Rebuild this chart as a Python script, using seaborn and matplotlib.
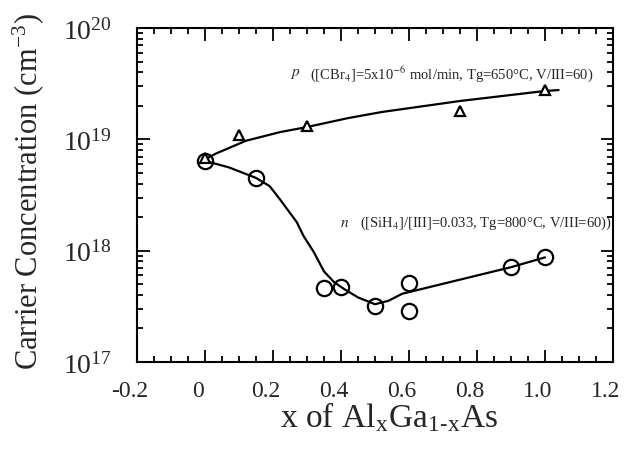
import numpy as np
import pandas as pd
import seaborn as sns
import matplotlib.pyplot as plt
from matplotlib.ticker import MultipleLocator, LogLocator, NullFormatter
from matplotlib.transforms import ScaledTranslation

# measured points, p-type (CBr4 doped)
p_x = [0.0, 0.1, 0.3, 0.75, 1.0]
p_y = [6.8e18, 1.09e19, 1.31e19, 1.8e19, 2.75e19]
# measured points, n-type (SiH4 doped)
n_x = [0.0, 0.15, 0.35, 0.4, 0.5, 0.6, 0.6, 0.9, 1.0]
n_y = [6.4e18, 4.5e18, 4.6e17, 4.7e17, 3.2e17, 5.1e17, 2.87e17, 7.1e17, 8.8e17]

# hand-drawn guide lines
p_fit_x = [0.0, 0.03, 0.12, 0.22, 0.3, 0.42, 0.52, 0.75, 1.0, 1.04]
p_fit_y = [6.6e18, 7.4e18, 9.7e18, 1.16e19, 1.29e19, 1.55e19, 1.76e19, 2.21e19, 2.72e19, 2.77e19]
n_fit_x = [0.0, 0.07, 0.15, 0.19, 0.22, 0.27, 0.29, 0.32, 0.35, 0.38, 0.41, 0.45,
           0.5, 0.54, 0.58, 0.9, 1.0]
n_fit_y = [6.4e18, 5.6e18, 4.5e18, 3.8e18, 2.9e18, 1.8e18, 1.35e18, 9.7e17, 6.5e17,
           5.2e17, 4.5e17, 3.8e17, 3.3e17, 3.55e17, 4.1e17, 7.1e17, 8.7e17]
xtick_vals = [-0.2, 0, 0.2, 0.4, 0.6, 0.8, 1.0, 1.2]
xtick_text = ['-0.2', '0', '0.2', '0.4', '0.6', '0.8', '1.0', '1.2']

sns.set_theme(style='ticks')
plt.rcParams['font.family'] = ['Liberation Serif', 'DejaVu Serif']
plt.rcParams['mathtext.fontset'] = 'stix'

fig = plt.figure(figsize=(6.24, 4.52), dpi=100)
ax = fig.add_axes([0.2196, 0.197, 0.7628, 0.7388])

sns.lineplot(x=p_fit_x, y=p_fit_y, color='black', linewidth=1.6, sort=False,
             estimator=None, ax=ax)
sns.lineplot(x=n_fit_x, y=n_fit_y, color='black', linewidth=1.6, sort=False,
             estimator=None, ax=ax)
ax.plot(p_x, p_y, linestyle='none', marker='^', markersize=7.5,
        markerfacecolor='white', markeredgecolor='black', markeredgewidth=1.6)
ax.plot(n_x, n_y, linestyle='none', marker='o', markersize=11,
        markerfacecolor='none', markeredgecolor='black', markeredgewidth=1.6)

ax.set_yscale('log')
ax.set_xlim(-0.2, 1.2)
ax.set_ylim(1e17, 1e20)
ax.xaxis.set_minor_locator(MultipleLocator(0.05))
ax.yaxis.set_major_locator(LogLocator(base=10, numticks=10))
ax.yaxis.set_minor_locator(LogLocator(base=10, subs=np.arange(2, 10), numticks=20))
ax.yaxis.set_minor_formatter(NullFormatter())
ax.set_xticks(xtick_vals)
ax.set_xticklabels(xtick_text)

for s in ax.spines.values():
    s.set_linewidth(1.5)
    s.set_color('black')
ax.tick_params(which='both', direction='in', top=True, right=True, width=1.3, color='black')
ax.tick_params(which='major', length=9)
ax.tick_params(which='minor', length=4)
ax.tick_params(axis='x', which='major', pad=13, labelsize=17)
ax.tick_params(axis='y', which='major', pad=18, labelsize=20)

# tick labels sit a little left of their ticks in the original
shift = ScaledTranslation(-7 / 100, 0, fig.dpi_scale_trans)
for lab in ax.get_xticklabels():
    lab.set_transform(lab.get_transform() + shift)

ax.set_xlabel(r'x of Al$_\mathregular{x}$Ga$_\mathregular{1\text{-}x}$As', fontsize=24)
ax.set_ylabel(r'Carrier Concentration (cm$^\mathregular{-3}$)', fontsize=22)
ax.xaxis.set_label_coords(0.53, -0.115)
ax.yaxis.set_label_coords(-0.19, 0.515)

ax.text(0.25, 3.95e19, r'$p$', fontsize=11, va='center')
ax.text(0.31, 3.95e19, r'([CBr$_4$]=5x10$^{-6}$ mol/min, Tg=650°C, V/III=60)',
        fontsize=10.5, va='center')
ax.text(0.397, 1.78e18, r'$n$', fontsize=11, va='center')
ax.text(0.455, 1.78e18, r'([SiH$_4$]/[III]=0.033, Tg=800°C, V/III=60))',
        fontsize=10.5, va='center')

fig.savefig('out.png', dpi=100)
